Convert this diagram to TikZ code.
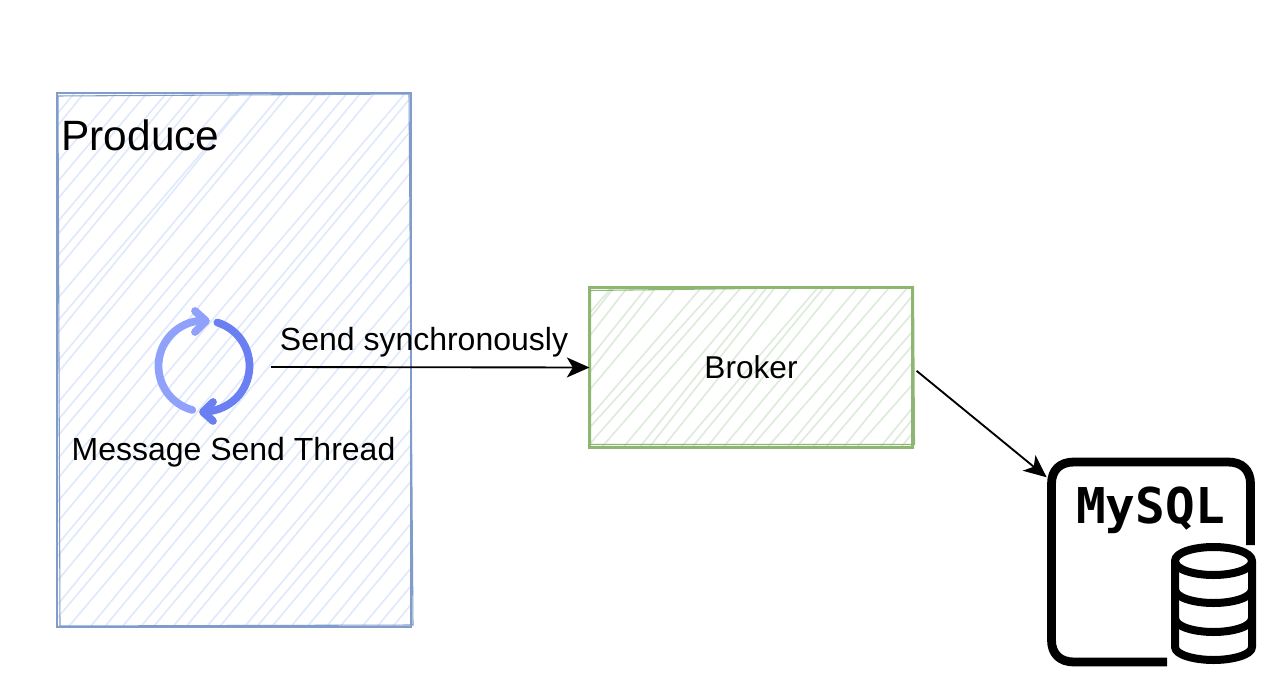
\documentclass[tikz,border=0pt]{standalone}
\usepackage{fontspec}
\setmainfont{Liberation Sans}
\newfontfamily\iconmono{DejaVu Sans Mono}[BoldFont={DejaVu Sans Mono Bold}]
\usetikzlibrary{arrows.meta,calc}
\definecolor{bluefill}{HTML}{DFE9FB}
\definecolor{bluestroke}{HTML}{7F9CCB}
\definecolor{greenfill}{HTML}{DDEBDA}
\definecolor{greenstroke}{HTML}{8DB673}
\definecolor{iconlight}{HTML}{8FA1FB}
\definecolor{icondark}{HTML}{6A80F2}
\pgfmathsetseed{42}
\newcommand{\hatchlines}[3]{% colour, step (px), height-run (px)
  \foreach \hx in {-#3,-\numexpr#3-#2\relax,...,600}{
    \pgfmathsetmacro{\ja}{5*rand}
    \pgfmathsetmacro{\jb}{9*rand}
    \draw[#1,line width=1.2pt]
      ($(path picture bounding box.south west)+(\hx+\ja,0)$) --
      ($(path picture bounding box.south west)+(\hx+#3+\jb,-1.2*#3)$);
  }}
\tikzset{
  x=0.75pt,y=-0.75pt,
  labeltext/.style={inner sep=0pt,outer sep=0pt,font=\fontsize{24}{28}\selectfont,text=black},
  sketchbox/.style={rectangle,inner sep=0pt,outer sep=0pt,font=\fontsize{23.7}{28}\selectfont},
  conn/.style={line width=1.4pt,draw=black,-{Stealth[length=17pt,width=15pt,inset=4.5pt]}},
  iconstroke/.style={line width=5.8pt,line cap=round,line join=round},
  dbstroke/.style={line width=6pt,draw=black,line join=round},
}
\begin{document}
\begin{tikzpicture}
\useasboundingbox (0,0) rectangle (1280,684);
\fill[white] (0,0) rectangle (1280,684);

% Produce box
\node[sketchbox,minimum width=265.5pt,minimum height=400.5pt,
  path picture={\hatchlines{bluefill}{17}{445}}] (produce) at (234,360) {};
\draw[bluestroke,line width=1.9pt] (produce.north west) rectangle (produce.south east);
\draw[bluestroke,line width=0.8pt] ($(produce.north west)+(1,3)$) -- ($(produce.north east)+(-2,1)$) -- ($(produce.south east)+(2,-2)$) -- ($(produce.south west)+(3,-1)$) -- cycle;

% Broker box
\node[sketchbox,minimum width=242.25pt,minimum height=120pt,
  path picture={\hatchlines{greenfill}{15}{134}}] (broker) at (751,367.5) {\raisebox{-1pt}{Broker}};
\draw[greenstroke,line width=2.1pt] (broker.north west) rectangle (broker.south east);
\draw[greenstroke,line width=0.8pt] ($(broker.north west)+(1,3)$) -- ($(broker.north east)+(1,-1)$) -- ($(broker.south east)+(2,-3)$) -- ($(broker.south west)+(1,-3)$) -- cycle;

% Labels in the Produce box
\node[labeltext,font=\fontsize{31.8}{36}\selectfont,anchor=west] (producelabel) at (61.5,135) {Produce};
\node[labeltext] (thread) at (233.5,452) {Message Send Thread};

% Loop icon
\coordinate (loopstart) at (271,367);
\draw[iconstroke,iconlight] plot[smooth,domain=105:268,samples=30] ({204+45.5*cos(\x)},{366+45.5*sin(\x)});
\draw[iconstroke,iconlight] (195,311) -- (206,321) -- (195,332);
\draw[iconstroke,icondark] plot[smooth,domain=287:442,samples=30] ({204+45.5*cos(\x)},{366+45.5*sin(\x)});
\draw[iconstroke,icondark] (213,402) -- (203,412) -- (213,421);

% MySQL icon
\node[rectangle,inner sep=0pt,outer sep=0pt,minimum width=155pt,minimum height=155pt] (mysql) at (1150,561) {};
\draw[dbstroke,line width=6.6pt] (1250.5,545) -- (1250.5,484) .. controls (1250.5,470) and (1242,462) .. (1228,462)
  -- (1074,462) .. controls (1060,462) and (1051.5,470) .. (1051.5,484)
  -- (1051.5,640) .. controls (1051.5,654) and (1060,662) .. (1074,662) -- (1167,662);
\node[inner sep=0pt,font=\iconmono\bfseries\fontsize{37}{40}\selectfont] (mysqltext) at (1150.5,510) {MySQL};
\filldraw[dbstroke,fill=white] (1175,561) .. controls (1175,552) and (1195,547) .. (1213.5,547) .. controls (1232,547) and (1252,552) .. (1252,561)
  -- (1252,647) .. controls (1252,655) and (1232,660) .. (1213.5,660) .. controls (1195,660) and (1175,655) .. (1175,647) -- cycle;
\foreach \yy in {561,589,618}{
  \draw[dbstroke] (1175,\yy) .. controls (1175,\yy+9) and (1195,\yy+14) .. (1213.5,\yy+14) .. controls (1232,\yy+14) and (1252,\yy+9) .. (1252,\yy);
}

% Connectors
\draw[conn] (loopstart) -- (broker.west);
\node[labeltext] (sendlabel) at (424,342) {Send synchronously};
\draw[conn,shorten <=4pt] (broker.east) -- (mysql.141);
\end{tikzpicture}
\end{document}
